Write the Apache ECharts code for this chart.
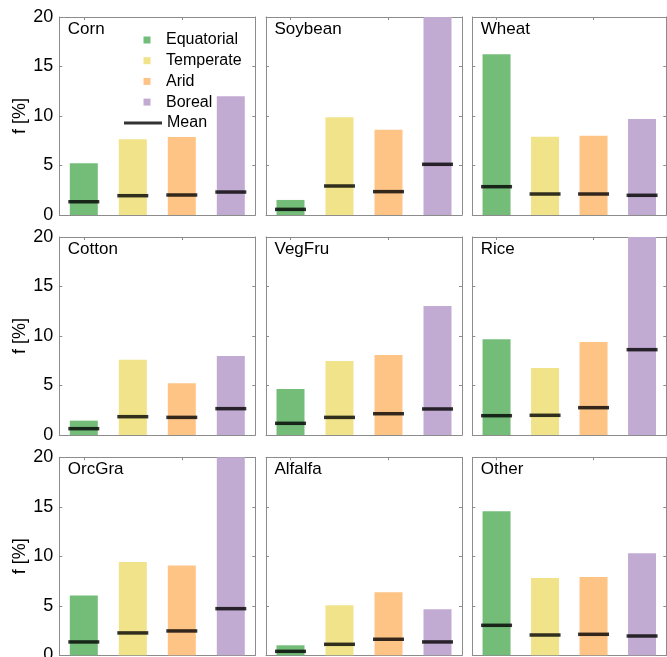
<!DOCTYPE html>
<html>
<head>
<meta charset="utf-8">
<script src="https://cdn.jsdelivr.net/npm/echarts@6/dist/echarts.min.js"></script>
<style>
html,body{margin:0;padding:0;background:#fff;}
#chart{width:667px;height:657px;}
</style>
</head>
<body>
<div id="chart"></div>
<script>
// ---- data ----
var crops = ['Corn', 'Soybean', 'Wheat', 'Cotton', 'VegFru', 'Rice', 'OrcGra', 'Alfalfa', 'Other'];
var climates = ['Equatorial', 'Temperate', 'Arid', 'Boreal'];
var equatorial = [5.22, 1.52, 16.23, 1.45, 4.65, 9.66, 6.03, 1.01, 14.55];
var temperate  = [7.65, 9.87, 7.91, 7.61, 7.47, 6.77, 9.43, 5.05, 7.81];
var arid       = [7.88, 8.62, 8.01, 5.22, 8.08, 9.39, 9.06, 6.36, 7.91];
var boreal     = [12.0, 20.0, 9.70, 7.98, 13.03, 20.0, 20.0, 4.65, 10.30];
var meanEquatorial = [1.34, 0.57, 2.86, 0.64, 1.18, 1.95, 1.35, 0.40, 3.03];
var meanTemperate  = [1.95, 2.93, 2.12, 1.85, 1.78, 1.99, 2.26, 1.11, 2.05];
var meanArid       = [2.02, 2.36, 2.12, 1.78, 2.15, 2.76, 2.46, 1.62, 2.12];
var meanBoreal     = [2.32, 5.12, 1.99, 2.66, 2.63, 8.62, 4.71, 1.35, 1.95];
var yTicks = [0, 5, 10, 15, 20];

// ---- styling ----
var colors = ['#73bd79', '#f0e38a', '#fec486', '#c2abd2'];
var axisColor = '#8c8c8c';
var font = "'Liberation Sans', Arial, sans-serif";
var lefts = [59.3, 266, 472.3];
var widths = [196, 196, 194];
var tops = [17, 237, 457.3];
var H = 198;

var values = [equatorial, temperate, arid, boreal];
var means = [meanEquatorial, meanTemperate, meanArid, meanBoreal];

var grids = [], xAxes = [], yAxes = [], series = [], titles = [];
crops.forEach(function (crop, p) {
  var r = Math.floor(p / 3), c = p % 3;
  grids.push({left: lefts[c], top: tops[r], width: widths[c], height: H, containLabel: false, outerBoundsMode: 'none'});
  ['bottom', 'top'].forEach(function (pos) {
    xAxes.push({
      type: 'category', data: climates, gridIndex: p, position: pos,
      axisLine: {show: true, onZero: false, lineStyle: {color: axisColor, width: 1}},
      axisTick: {show: true, inside: true, alignWithLabel: true, length: 3, lineStyle: {color: axisColor}},
      axisLabel: {show: false}, splitLine: {show: false}
    });
  });
  ['left', 'right'].forEach(function (pos) {
    var isMain = (pos === 'left' && c === 0);
    yAxes.push({
      type: 'value', gridIndex: p, position: pos, min: yTicks[0], max: yTicks[yTicks.length - 1], interval: yTicks[1] - yTicks[0],
      name: isMain ? 'f [%]' : '', nameLocation: 'middle', nameGap: 30,
      nameTextStyle: {fontSize: 18, color: '#000', fontFamily: font},
      axisLine: {show: true, onZero: false, lineStyle: {color: axisColor, width: 1}},
      axisTick: {show: true, inside: true, length: 3, lineStyle: {color: axisColor}},
      axisLabel: {show: isMain, fontSize: 18, color: '#000', fontFamily: font, margin: 6},
      splitLine: {show: false}
    });
  });
  climates.forEach(function (cl, k) {
    var d = climates.map(function (_, j) { return j === k ? values[k][p] : '-'; });
    series.push({
      type: 'bar', name: cl, xAxisIndex: 2 * p, yAxisIndex: 2 * p, data: d,
      barWidth: 28, barGap: '-100%', itemStyle: {color: colors[k]}, silent: true, z: 2
    });
  });
  series.push({
    type: 'scatter', name: 'Mean', xAxisIndex: 2 * p, yAxisIndex: 2 * p,
    data: climates.map(function (_, k) { return [k, means[k][p]]; }),
    symbol: 'rect', symbolSize: [31, 3.5], itemStyle: {color: '#000'}, silent: true, z: 5
  });
  titles.push({
    text: crop, left: lefts[c] + 8.5, top: tops[r] + 4, padding: 0,
    textStyle: {fontSize: 17, fontWeight: 'normal', color: '#000', fontFamily: font}
  });
});

var chart = echarts.init(document.getElementById('chart'), null, {renderer: 'canvas'});
chart.setOption({
  animation: false,
  backgroundColor: '#fff',
  title: titles,
  grid: grids,
  xAxis: xAxes,
  yAxis: yAxes,
  legend: [
    {
      data: climates, orient: 'vertical', left: 143.5, top: 32, padding: 0,
      itemWidth: 7, itemHeight: 7, icon: 'rect', itemGap: 4.7, selectedMode: false,
      textStyle: {fontSize: 16, lineHeight: 16, color: '#000', fontFamily: font, padding: [0, 0, 0, 10.5]}
    },
    {
      data: ['Mean'], orient: 'vertical', left: 124, top: 115, padding: 0,
      itemWidth: 38, itemHeight: 3, icon: 'rect', selectedMode: false,
      textStyle: {fontSize: 16, lineHeight: 16, color: '#000', fontFamily: font}
    }
  ],
  series: series
});
</script>
</body>
</html>
